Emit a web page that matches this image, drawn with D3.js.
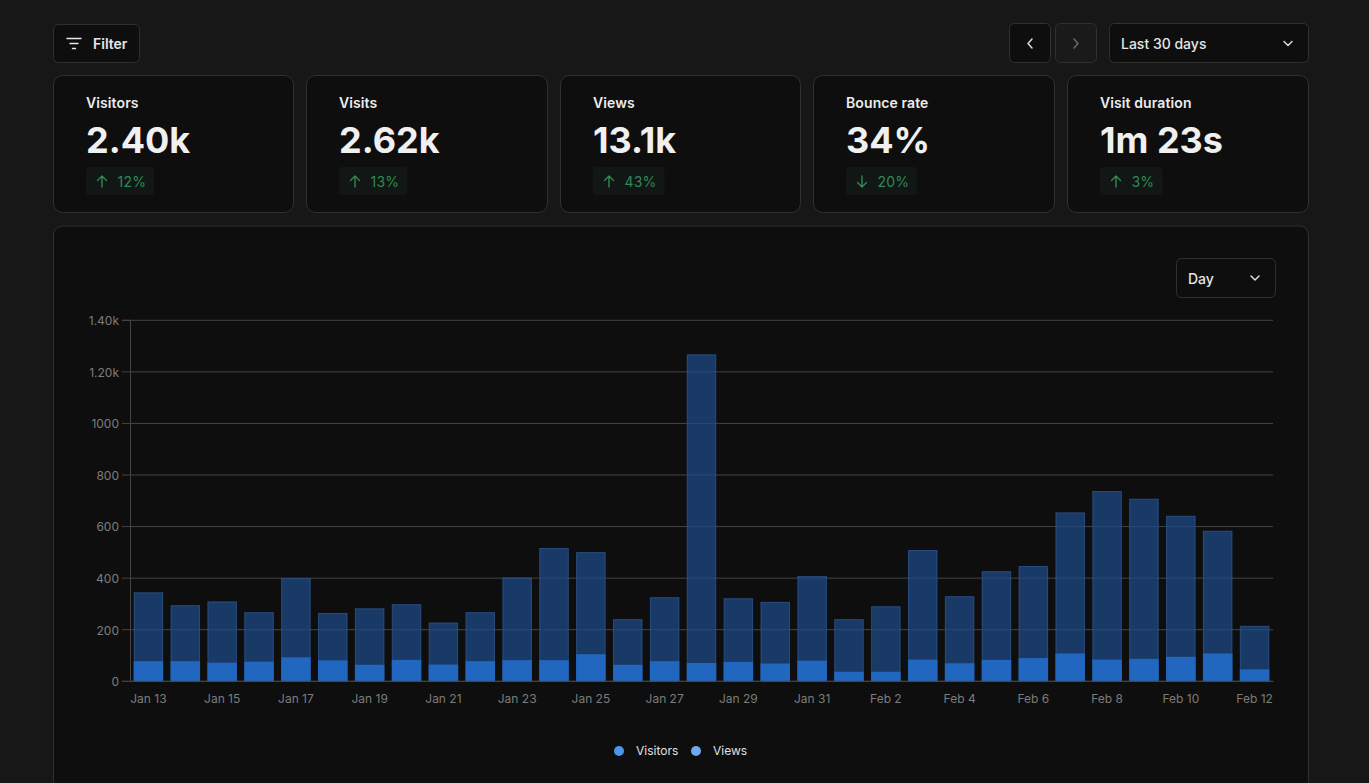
<!DOCTYPE html>
<html><head><meta charset="utf-8">
<script src="https://cdn.jsdelivr.net/npm/d3@7/dist/d3.min.js"></script>
<style>
html,body{margin:0;padding:0;background:#171717;overflow:hidden}
svg{display:block}
text{font-family:Inter,"Noto Sans",sans-serif}
</style></head><body>
<svg id="c" width="1369" height="783"></svg>
<script>
const days=["Jan 13","Jan 14","Jan 15","Jan 16","Jan 17","Jan 18","Jan 19","Jan 20","Jan 21","Jan 22","Jan 23","Jan 24","Jan 25","Jan 26","Jan 27","Jan 28","Jan 29","Jan 30","Jan 31","Feb 1","Feb 2","Feb 3","Feb 4","Feb 5","Feb 6","Feb 7","Feb 8","Feb 9","Feb 10","Feb 11","Feb 12"];
const views=[345,295,310,268,400,265,283,299,228,268,403,517,501,241,326,1268,322,308,408,241,291,509,330,427,447,655,738,708,642,584,215];
const visitors=[78,78,72,76,93,81,64,83,65,78,82,82,105,64,78,71,75,69,80,37,37,84,70,83,90,108,84,87,95,108,46];
const yTicks=[0,200,400,600,800,1000,1200,1400];
const yTickLabels=["0","200","400","600","800","1000","1.20k","1.40k"];
const metricNames=["Visitors","Visits","Views","Bounce rate","Visit duration"];
const metricValues=["2.40k","2.62k","13.1k","34%","1m 23s"];
const metricChanges=["12%","13%","43%","20%","3%"];
const metricDirs=["up","up","up","down","up"];
const legendNames=["Visitors","Views"];

const svg=d3.select("#c");
const cardFill="#0e0e0e",bd="#303030",green="#2f8a55";
function box(x,y,w,h,r,fill,stroke){return svg.append("rect").attr("x",x+.5).attr("y",y+.5).attr("width",w-1).attr("height",h-1).attr("rx",r).attr("fill",fill).attr("stroke",stroke||bd)}
function label(x,y,t,size,weight,fill,anchor){return svg.append("text").attr("x",x).attr("y",y).attr("font-size",size).attr("font-weight",weight).attr("fill",fill).attr("text-anchor",anchor||"start").text(t)}
function icon(d,col,w){return svg.append("path").attr("d",d).attr("fill","none").attr("stroke",col).attr("stroke-width",w||1.5).attr("stroke-linecap","round").attr("stroke-linejoin","round")}

// toolbar
box(53,24,87,39,5,cardFill);
icon("M67 38.5H81M70 43.5H78M72.5 48.5H75.5","#e8e8e8",1.4);
label(93,49,"Filter",14,600,"#e6e6e6");
box(1009,23,42,40,5,cardFill);
icon("M1032 39L1028 43.5L1032 48","#dcdcdc");
box(1055,23,42,40,5,"#1a1a1a");
icon("M1074 39L1078 43.5L1074 48","#6a6a6a");
box(1109,23,200,40,5,cardFill);
label(1121,49,"Last 30 days",14,500,"#e6e6e6");
icon("M1284 41.5L1288 45.5L1292 41.5","#dcdcdc");

// metric cards
const cardX=[53,306,560,813,1067],cardW=[241,242,241,242,242];
metricNames.forEach((n,i)=>{
  const x=cardX[i];
  box(x,75,cardW[i],138,9,cardFill);
  label(x+33,108,n,14,600,"#ececec").style("letter-spacing","0.1px");
  label(x+33,153,metricValues[i],36,700,"#f0f0f0");
  const badge=svg.append("rect").attr("x",x+33).attr("y",167).attr("height",28).attr("rx",3).attr("fill","#121614");
  const ax=x+49;
  icon(metricDirs[i]==="up"?`M${ax} 187V176M${ax-4.5} 180.5L${ax} 176L${ax+4.5} 180.5`:`M${ax} 176V187M${ax-4.5} 182.5L${ax} 187L${ax+4.5} 182.5`,green,1.4);
  const t=label(x+64.5,187,metricChanges[i],14,400,green).style("letter-spacing","0.2px");
  badge.attr("width",31.5+t.node().getComputedTextLength()+8);
});

// chart card
svg.append("path").attr("d","M53.5 783V235a9 9 0 0 1 9-9H1299.5a9 9 0 0 1 9 9V783").attr("fill",cardFill).attr("stroke",bd);
box(1176,258,100,40,5,cardFill);
label(1188,284,"Day",14,500,"#e6e6e6");
icon("M1251 276L1255 280L1259 276","#dcdcdc");

// plot
const gridCol="#444444",tickText="#7c7c7c";
const plotLeft=130,plotRight=1273,plotTop=319.8,plotBottom=680.8;
const xs=d3.scaleBand().domain(days).range([plotLeft,plotRight]).paddingInner(0.2).paddingOuter(0.1);
const ys=d3.scaleLinear().domain([0,1400]).range([plotBottom,plotTop]);
const gy=svg.append("g").attr("transform",`translate(${plotLeft},0)`).call(d3.axisLeft(ys).tickValues(yTicks).tickFormat((d,i)=>yTickLabels[i]).tickSize(8).tickPadding(3));
gy.select(".domain").attr("stroke",gridCol);
gy.selectAll("line").attr("stroke",gridCol);
gy.selectAll("text").attr("fill",tickText).attr("font-size",12).attr("dy","0.4em").style("font-family","Inter");
const grid=svg.append("g").attr("transform",`translate(${plotLeft},0)`).call(d3.axisLeft(ys).tickValues(yTicks).tickFormat("").tickSize(-(plotRight-plotLeft)));
grid.select(".domain").remove();
grid.selectAll("line").attr("stroke",gridCol);

// bars sit on the axis line (d3 axes are offset by half a pixel); the views stroke stays inside the bar
svg.append("g").attr("transform","translate(0,0.5)").selectAll("rect").data(days).join("rect")
 .attr("x",d=>xs(d)+.5).attr("width",xs.bandwidth()-1)
 .attr("y",(d,i)=>ys(views[i])+.5).attr("height",(d,i)=>plotBottom-ys(views[i])-.5)
 .attr("fill","#1d4986").attr("fill-opacity",0.75)
 .attr("stroke","#2f5a96").attr("stroke-opacity",0.75).attr("stroke-width",1);
svg.append("g").attr("transform","translate(0,0.5)").selectAll("rect").data(days).join("rect")
 .attr("x",d=>xs(d)).attr("width",xs.bandwidth())
 .attr("y",(d,i)=>ys(visitors[i])).attr("height",(d,i)=>plotBottom-ys(visitors[i]))
 .attr("fill","#2267bf");

const gx=svg.append("g").attr("transform",`translate(0,${plotBottom})`).call(d3.axisBottom(xs).tickValues(days.filter((d,i)=>i%2===0)).tickSize(0).tickPadding(14));
gx.select(".domain").attr("stroke",gridCol);
gx.selectAll("text").attr("fill",tickText).attr("font-size",12).style("font-family","Inter");

// legend
const legendDots=[619,696],legendText=[636,713],legendCols=["#4f94ea","#6fa9ec"];
legendNames.forEach((n,i)=>{
  svg.append("circle").attr("cx",legendDots[i]).attr("cy",751).attr("r",5).attr("fill",legendCols[i]);
  label(legendText[i],755,n,12,400,"#e0e0e0");
});
</script></body></html>
